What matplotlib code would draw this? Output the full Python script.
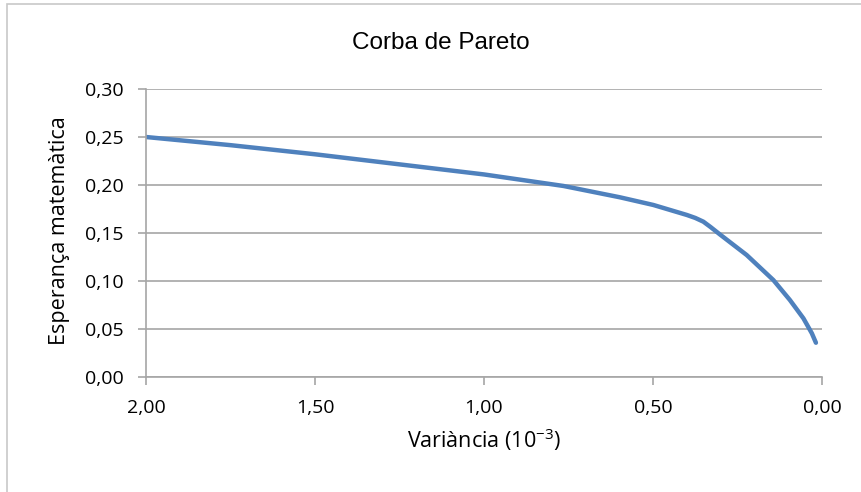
import numpy as np
import matplotlib
matplotlib.use("Agg")
import matplotlib.pyplot as plt
from matplotlib.ticker import FuncFormatter
from matplotlib.patches import Rectangle

# punts de la corba (variància en 10^-3, esperança)
variancia = [2.00, 1.75, 1.50, 1.25, 1.00, 0.765, 0.598, 0.499, 0.400, 0.375, 0.351,
             0.330, 0.302, 0.223, 0.144, 0.095, 0.055, 0.030, 0.018]
esperanca = [0.250, 0.2415, 0.232, 0.2215, 0.211, 0.199, 0.1872, 0.1792, 0.1688, 0.1657, 0.1618,
             0.1563, 0.1485, 0.1271, 0.101, 0.0802, 0.0611, 0.0455, 0.0357]

x_ticks = [2.0, 1.5, 1.0, 0.5, 0.0]
y_ticks = [0.0, 0.05, 0.10, 0.15, 0.20, 0.25, 0.30]

plt.rcParams['font.family'] = ['Open Sans', 'DejaVu Sans']
plt.rcParams['mathtext.default'] = 'regular'

W, H = 862, 492
fig = plt.figure(figsize=(W / 100, H / 100), dpi=100)
ax = fig.add_axes([146 / W, 1 - 377 / H, (822 - 146) / W, (377 - 89) / H])

gris = "#A6A6A6"
ax.plot(variancia, esperanca, color="#4F81BD", lw=3.2, solid_capstyle="round",
        solid_joinstyle="round")

ax.set_xlim(2.0, 0.0)
ax.set_ylim(0.0, 0.30)
ax.set_xticks(x_ticks)
ax.set_yticks(y_ticks)
coma = FuncFormatter(lambda v, p: f"{v:.2f}".replace(".", ","))
ax.xaxis.set_major_formatter(coma)
ax.yaxis.set_major_formatter(coma)
ax.tick_params(axis="both", colors=gris, labelcolor="black", labelsize=14, length=6, width=1.2)
ax.tick_params(axis="x", pad=10)
ax.tick_params(axis="y", pad=10)

ax.grid(axis="y", color=gris, lw=1.2)
ax.set_axisbelow(True)
for s in ["top", "right"]:
    ax.spines[s].set_visible(False)
for s in ["left", "bottom"]:
    ax.spines[s].set_color(gris)
    ax.spines[s].set_linewidth(1.2)

fig.text(441 / W, 1 - 43 / H, "Corba de Pareto", ha="center", va="center", fontsize=17.5,
         family=["Liberation Sans", "DejaVu Sans"])
fig.text(484 / W, 1 - 440 / H, "Variància (10$^{-3}$)", ha="center", va="center", fontsize=15.5)
fig.text(60 / W, 1 - 231 / H, "Esperança matemàtica", ha="center", va="center",
         rotation=90, fontsize=15.5)

fig.patches.append(Rectangle((7 / W, -0.1), 1.2, 1 - 4 / H + 0.1, transform=fig.transFigure,
                             fill=False, edgecolor="#C8C8C8", lw=1.2))

fig.savefig("out.png", dpi=100)
